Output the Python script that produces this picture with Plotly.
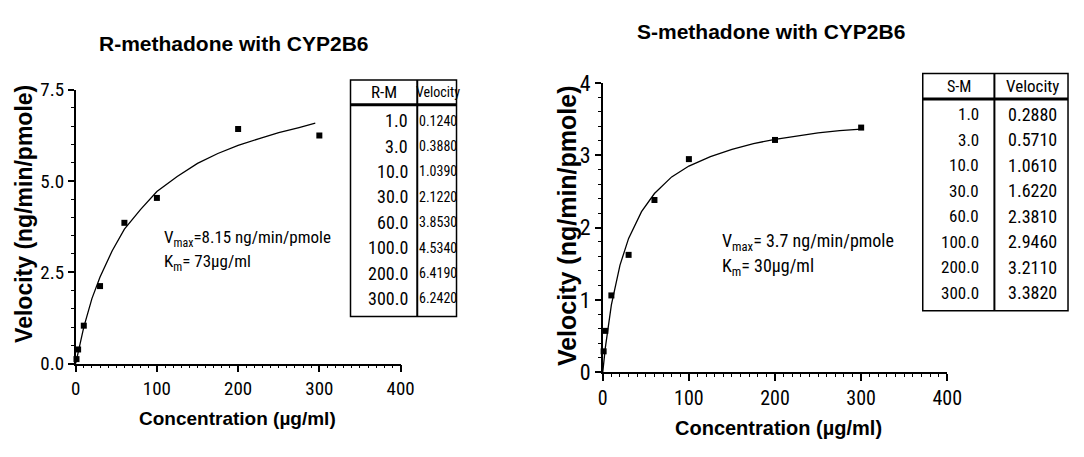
import plotly.graph_objects as go

W, H = 1084, 457

# ---------------- data ----------------
conc = [1.0, 3.0, 10.0, 30.0, 60.0, 100.0, 200.0, 300.0]
vel_R = [0.1240, 0.3880, 1.0390, 2.1220, 3.8530, 4.5340, 6.4190, 6.2420]
vel_S = [0.2880, 0.5710, 1.0610, 1.6220, 2.3810, 2.9460, 3.2110, 3.3820]

# fitted curves
fit_x_R = [0, 1, 3, 10, 20, 30, 45, 60, 80, 100, 125, 150, 175, 200, 225, 250, 275, 295]
fit_y_R = [0, 0.11, 0.32, 1.0, 1.78, 2.37, 3.09, 3.68, 4.22, 4.71, 5.12, 5.48, 5.75, 5.97, 6.15, 6.32, 6.46, 6.58]
fit_x_S = [0, 1, 3, 10, 20, 30, 45, 60, 80, 100, 125, 150, 175, 200, 225, 250, 275, 300]
fit_y_S = [0, 0.12, 0.34, 0.93, 1.48, 1.85, 2.22, 2.47, 2.70, 2.85, 2.98, 3.08, 3.16, 3.22, 3.27, 3.31, 3.34, 3.36]

table_R_head = ["R-M", "Velocity"]
table_R_col1 = ["1.0", "3.0", "10.0", "30.0", "60.0", "100.0", "200.0", "300.0"]
table_R_col2 = ["0.1240", "0.3880", "1.0390", "2.1220", "3.8530", "4.5340", "6.4190", "6.2420"]
table_S_head = ["S-M", "Velocity"]
table_S_col1 = ["1.0", "3.0", "10.0", "30.0", "60.0", "100.0", "200.0", "300.0"]
table_S_col2 = ["0.2880", "0.5710", "1.0610", "1.6220", "2.3810", "2.9460", "3.2110", "3.3820"]

title_R = "R-methadone with CYP2B6"
title_S = "S-methadone with CYP2B6"
ytitle = "Velocity (ng/min/pmole)"
xtitle = "Concentration (µg/ml)"
ann_R = ["V<sub>max</sub>=8.15 ng/min/pmole", "K<sub>m</sub>= 73µg/ml"]
ann_S = ["V<sub>max</sub>= 3.7 ng/min/pmole", "K<sub>m</sub>= 30µg/ml"]

# ---------------- helpers ----------------
def px(x):
    return x / W

def py(y):
    return 1 - y / H

FONT = "Roboto Condensed, DejaVu Sans Condensed, Liberation Sans, sans-serif"
BFONT = "Liberation Sans, Arial, sans-serif"

fig = go.Figure()

marker = dict(symbol="square", size=6, color="black")
line = dict(color="black", width=1.3)

fig.add_trace(go.Scatter(x=fit_x_R, y=fit_y_R, mode="lines", line=line, xaxis="x", yaxis="y", showlegend=False, hoverinfo="skip"))
fig.add_trace(go.Scatter(x=conc, y=vel_R, mode="markers", marker=marker, xaxis="x", yaxis="y", showlegend=False, cliponaxis=False))
fig.add_trace(go.Scatter(x=fit_x_S, y=fit_y_S, mode="lines", line=line, xaxis="x2", yaxis="y2", showlegend=False, hoverinfo="skip"))
fig.add_trace(go.Scatter(x=conc, y=vel_S, mode="markers", marker=marker, xaxis="x2", yaxis="y2", showlegend=False, cliponaxis=False))

def xaxis_cfg(x0, x1, fs, anchor):
    return dict(domain=[px(x0), px(x1)], range=[0, 400], tickvals=[0, 100, 200, 300, 400],
                ticks="outside", ticklen=7, tickwidth=1.5, tickcolor="black",
                showline=True, linecolor="black", linewidth=1.5, showgrid=False, zeroline=False,
                tickfont=dict(family=FONT, size=fs, color="black"), anchor=anchor,
                minor=dict(dtick=10, ticks="outside", ticklen=3, tickcolor="black", tickwidth=1),
                fixedrange=True)

def yaxis_cfg(y0, y1, rng, tv, tt, mdt, fs, anchor):
    return dict(domain=[py(y0), py(y1)], range=rng, tickvals=tv, ticktext=tt,
                ticks="outside", ticklen=6, tickwidth=1.5, tickcolor="black",
                showline=True, linecolor="black", linewidth=1.5, showgrid=False, zeroline=False,
                tickfont=dict(family=FONT, size=fs, color="black"), anchor=anchor,
                minor=dict(dtick=mdt, ticks="outside", ticklen=3, tickcolor="black", tickwidth=1),
                fixedrange=True)

fig.update_layout(
    width=W, height=H, margin=dict(l=0, r=0, t=0, b=0),
    paper_bgcolor="white", plot_bgcolor="white",
    xaxis=xaxis_cfg(72, 403, 19, "y"),
    yaxis=yaxis_cfg(372, 82, [0, 7.5], [0, 2.5, 5, 7.5], ["0.0", "2.5", "5.0", "7.5"], 0.5, 19, "x"),
    xaxis2=xaxis_cfg(609, 960, 20, "y2"),
    yaxis2=yaxis_cfg(381, 75, [0, 4], [0, 1, 2, 3, 4], ["0", "1", "2", "3", "4"], 0.2, 22, "x2"),
)

annotations = []
shapes = []

def text(x, y, s, size, bold=False, xanchor="center", angle=0, family=FONT):
    if bold:
        s = "<b>" + s + "</b>"
    annotations.append(dict(x=px(x), y=py(y), xref="paper", yref="paper", text=s, showarrow=False,
                            xanchor=xanchor, yanchor="middle", textangle=angle,
                            font=dict(family=family, size=size, color="black")))

# titles
text(233, 33, title_R, 21, bold=True, family=BFONT)
text(780, 21, title_S, 21, bold=True, family=BFONT)
# axis titles
text(20, 214, ytitle, 23, bold=True, angle=-90, family=BFONT)
text(572, 226, ytitle, 25, bold=True, angle=-90, family=BFONT)
text(237, 430, xtitle, 19, bold=True, family=BFONT)
text(788, 440, xtitle, 20, bold=True, family=BFONT)
# fit annotations
text(160, 240, ann_R[0], 17, xanchor="left")
text(160, 265, ann_R[1], 17, xanchor="left")
text(728, 243, ann_S[0], 18, xanchor="left")
text(728, 270, ann_S[1], 18, xanchor="left")

def table(x0, xd, x1, y0, yh, y1, head, c1, c2, r0, r1, c1right, fs1, fs2, fh2):
    shapes.append(dict(type="rect", xref="paper", yref="paper", x0=px(x0), x1=px(x1), y0=py(y1), y1=py(y0),
                       line=dict(color="black", width=1.5)))
    shapes.append(dict(type="line", xref="paper", yref="paper", x0=px(x0), x1=px(x1), y0=py(yh), y1=py(yh),
                       line=dict(color="black", width=3)))
    shapes.append(dict(type="line", xref="paper", yref="paper", x0=px(xd), x1=px(xd), y0=py(y0), y1=py(y1),
                       line=dict(color="black", width=2)))
    hy = (y0 + yh) / 2
    text((x0 + xd) / 2, hy, head[0], fs1 - 1)
    text((xd + x1) / 2 + 1, hy, head[1], fh2)
    n = len(c1)
    for i in range(n):
        yy = r0 + (r1 - r0) * i / (n - 1)
        text(c1right, yy, c1[i], fs1, xanchor="right")
        text((xd + x1) / 2 + 1, yy, c2[i], fs2)

table(352, 420, 460, 72, 98, 322, table_R_head, table_R_col1, table_R_col2, 115, 303, 413, 18, 14, 14)
table(935, 1008, 1083, 65, 92, 316, table_S_head, table_S_col1, table_S_col2, 108, 297, 994, 17, 18, 17)

fig.update_layout(annotations=annotations, shapes=shapes)
fig.write_html("out.html")
